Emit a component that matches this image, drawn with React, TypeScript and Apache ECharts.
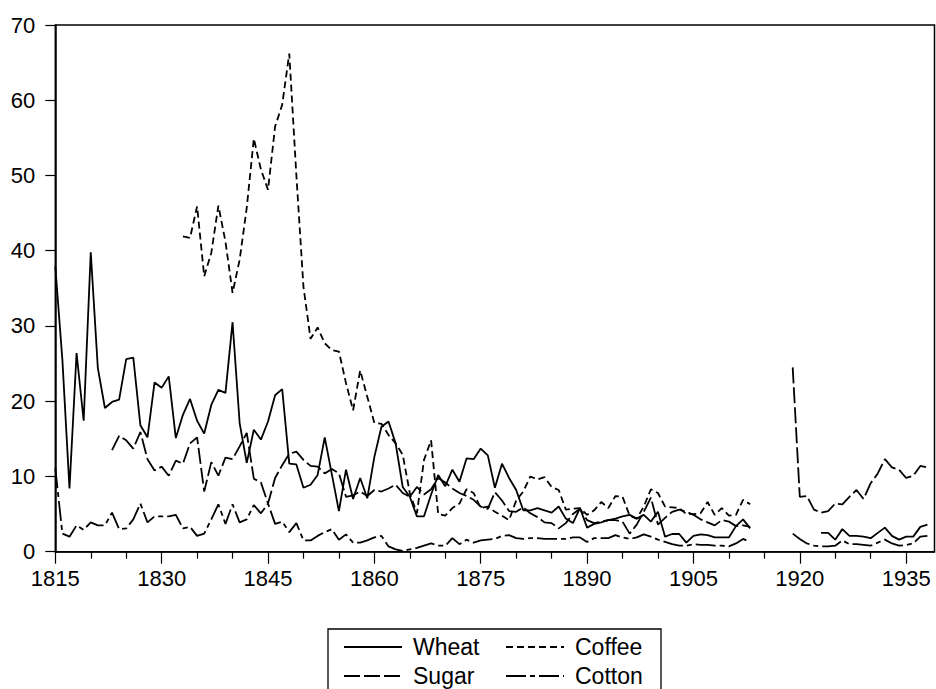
import React, { useEffect, useRef } from "react";
import * as echarts from "echarts";

// ---- data ----
const legendNames = ["Wheat", "Coffee", "Sugar", "Cotton"];
const majorYears = [1815, 1830, 1845, 1860, 1875, 1890, 1905, 1920, 1935];
const minorYears = [1820, 1825, 1835, 1840, 1850, 1855, 1865, 1870, 1880, 1885, 1895, 1900, 1910, 1915, 1925, 1930];

// Wheat 1815-1913
const wheatA = [
  37.9, 25.5, 8.4, 26.4, 17.4, 39.8, 24.4, 19.1, 19.9, 20.2,
  25.6, 25.8, 16.8, 15.2, 22.5, 21.8, 23.3, 15.1, 18.2, 20.3,
  17.4, 15.7, 19.5, 21.5, 21.1, 30.5, 17.1, 11.8, 16.2, 14.9,
  17.3, 20.8, 21.6, 11.7, 11.6, 8.5, 8.9, 10.2, 15.2, 10.3,
  5.4, 10.9, 7.0, 9.8, 7.1, 12.6, 16.6, 17.3, 14.4, 8.6,
  7.3, 4.7, 4.7, 7.6, 10.2, 8.7, 10.9, 9.3, 12.4, 12.3,
  13.7, 12.8, 8.5, 11.7, 9.8, 8.2, 5.5, 5.5, 5.8, 5.5,
  5.2, 6.0, 4.4, 3.8, 5.8, 3.2, 3.7, 3.9, 4.2, 4.4,
  4.7, 4.9, 4.4, 4.9, 4.0, 5.3, 2.0, 2.35, 2.35, 1.2,
  2.1, 2.3, 2.2, 1.9, 1.9, 1.9, 3.4, 4.3, 3.1,
];
// Wheat 1923-1938
const wheatB = [2.5, 2.5, 1.6, 3.0, 2.1, 2.1, 2.0, 1.8, 2.5, 3.2, 2.1, 1.6, 2.0, 2.0, 3.3, 3.6];

// Coffee 1833-1913
const coffee = [
  41.9, 41.7, 45.9, 36.6, 39.7, 46.0, 41.2, 34.4, 38.8, 45.7,
  54.9, 50.8, 48.1, 56.5, 59.4, 66.2, 50.0, 35.2, 28.3, 29.8,
  27.7, 26.8, 26.6, 22.4, 18.8, 24.1, 20.6, 17.1, 17.0, 15.5,
  14.4, 12.9, 7.8, 5.1, 12.2, 14.8, 5.0, 4.8, 5.8, 6.4,
  8.3, 7.8, 5.8, 6.0, 5.3, 4.8, 4.2, 6.8, 8.0, 10.0,
  9.6, 9.9, 8.6, 8.2, 5.6, 5.7, 5.8, 4.9, 5.5, 6.6,
  5.8, 7.4, 7.3, 4.8, 4.4, 6.0, 8.3, 7.8, 6.0, 5.9,
  5.8, 5.0, 5.0, 5.1, 6.6, 4.9, 5.8, 4.8, 4.9, 6.9,
  6.3,
];

// Sugar 1823-1913
const sugarA = [
  13.5, 15.4, 14.8, 13.7, 15.9, 12.3, 10.8, 11.3, 10.1, 12.1,
  11.7, 14.4, 15.2, 8.0, 11.9, 10.1, 12.5, 12.3, 14.0, 15.8,
  9.7, 9.2, 6.4, 9.8, 11.5, 13.0, 13.3, 12.2, 11.4, 11.3,
  10.4, 11.0, 10.4, 7.3, 7.5, 8.0, 7.4, 8.2, 8.0, 8.4,
  8.9, 7.8, 7.3, 8.6, 7.6, 8.3, 9.8, 9.2, 8.4, 7.8,
  7.4, 6.9, 6.0, 5.7, 7.9, 6.8, 5.4, 5.3, 5.9, 5.1,
  4.6, 3.9, 3.8, 3.1, 3.8, 5.0, 5.7, 4.2, 3.8, 4.0,
  4.2, 4.2, 4.0, 2.4, 3.6, 5.3, 7.2, 3.6, 4.5, 5.3,
  5.6, 5.3, 4.9, 4.3, 3.9, 3.5, 4.2, 4.0, 3.4, 3.5,
  3.3,
];
// Sugar 1919-1938
const sugarB = [24.5, 7.3, 7.4, 5.6, 5.2, 5.4, 6.4, 6.3, 7.3, 8.2, 7.0, 9.1, 10.4, 12.3, 11.2, 10.9, 9.8, 10.1, 11.4, 11.2];

// Cotton 1815-1913
const cottonA = [
  11.1, 2.4, 2.0, 3.5, 2.9, 3.9, 3.5, 3.5, 5.2, 3.0,
  3.1, 4.3, 6.4, 3.9, 4.7, 4.7, 4.7, 4.9, 3.1, 3.3,
  2.1, 2.4, 4.3, 6.3, 3.7, 6.3, 3.9, 4.3, 6.2, 5.1,
  6.4, 3.7, 4.0, 2.6, 3.8, 1.5, 1.5, 2.1, 2.6, 3.0,
  1.6, 2.3, 1.2, 1.2, 1.5, 1.9, 2.1, 0.7, 0.3, 0.1,
  0.3, 0.5, 0.8, 1.1, 0.8, 0.8, 1.8, 1.0, 1.6, 1.2,
  1.5, 1.6, 1.7, 2.1, 2.2, 1.8, 1.7, 1.8, 1.8, 1.7,
  1.7, 1.7, 1.7, 1.9, 1.9, 1.3, 1.8, 1.8, 1.8, 2.2,
  1.9, 1.7, 1.9, 2.3, 2.0, 1.6, 1.3, 1.0, 0.8, 0.8,
  1.0, 0.9, 0.9, 0.8, 0.8, 0.7, 1.1, 1.7, 1.3,
];
// Cotton 1919-1938
const cottonB = [2.4, 1.7, 1.1, 0.8, 0.7, 0.7, 0.8, 1.5, 1.0, 1.0, 0.9, 0.8, 1.2, 1.6, 1.1, 0.8, 0.9, 1.1, 2.0, 2.1];

type Pt = [number, number | string];
function seg(start: number, vals: number[]): Pt[] {
  return vals.map((v, i) => [start + i, v] as Pt);
}
function joined(parts: Array<[number, number[]]>): Pt[] {
  const out: Pt[] = [];
  parts.forEach(([start, vals], k) => {
    if (k > 0) out.push([start - 1, "-"]);
    out.push(...seg(start, vals));
  });
  return out;
}

const FONT = "'Liberation Sans', Arial, Helvetica, sans-serif";

export default function App() {
  const ref = useRef<HTMLDivElement>(null);
  useEffect(() => {
    if (!ref.current) return;
    const chart = echarts.init(ref.current, null, { renderer: "svg" });
    const lw = 1.8;
    const mk = (name: string, data: Pt[], type: any) => ({
      name,
      type: "line",
      data,
      symbol: "none",
      showSymbol: false,
      connectNulls: false,
      xAxisIndex: 0,
      lineStyle: { color: "#000", width: lw, type },
      itemStyle: { color: "#000" },
      emphasis: { disabled: true },
    });
    const legendCommon = {
      orient: "horizontal",
      itemWidth: 58,
      itemHeight: 14,
      itemGap: 18,
      padding: 0,
      selectedMode: false,
      itemStyle: { opacity: 0, borderWidth: 0 },
      textStyle: {
        fontSize: 23,
        fontFamily: FONT,
        color: "#000",
        width: 74,
        padding: [0, 0, 0, 6],
        lineHeight: 24,
      },
    };
    chart.setOption({
      animation: false,
      backgroundColor: "#fff",
      grid: {
        show: true,
        left: 55.3,
        right: 1.5,
        top: 25,
        bottom: 137.3,
        borderColor: "#000",
        borderWidth: 1.5,
        containLabel: false,
      },
      xAxis: [
        {
          type: "value",
          min: 1815,
          max: 1939,
          position: "bottom",
          axisLine: { show: true, lineStyle: { color: "#000", width: 1.5 } },
          axisTick: { show: true, inside: false, length: 12, customValues: majorYears, lineStyle: { color: "#000", width: 1.2 } },
          axisLabel: {
            show: true,
            customValues: majorYears,
            fontSize: 22,
            fontFamily: FONT,
            color: "#000",
            margin: 16,
            formatter: (v: number) => String(v),
          },
          splitLine: { show: false },
        },
        {
          type: "value",
          min: 1815,
          max: 1939,
          position: "bottom",
          axisLine: { show: false },
          axisTick: { show: true, inside: false, length: 7, customValues: minorYears, lineStyle: { color: "#000", width: 1.2 } },
          axisLabel: { show: false },
          splitLine: { show: false },
        },
      ],
      yAxis: {
        type: "value",
        min: 0,
        max: 70,
        interval: 10,
        axisLine: { show: true, lineStyle: { color: "#000", width: 1.5 } },
        axisTick: { show: true, inside: false, length: 10, lineStyle: { color: "#000", width: 1.2 } },
        axisLabel: { fontSize: 22, fontFamily: FONT, color: "#000", margin: 20 },
        splitLine: { show: false },
      },
      legend: [
        { ...legendCommon, data: [legendNames[0], legendNames[1]], left: 343, top: 635 },
        { ...legendCommon, data: [legendNames[2], legendNames[3]], left: 343, top: 664 },
      ],
      graphic: [
        {
          type: "rect",
          shape: { x: 328, y: 629, width: 333, height: 80 },
          style: { fill: "none", stroke: "#000", lineWidth: 1.3 },
          silent: true,
        },
      ],
      series: [
        mk(legendNames[0], joined([[1815, wheatA], [1923, wheatB]]), "solid"),
        mk(legendNames[1], joined([[1833, coffee]]), [7, 4]),
        mk(legendNames[2], joined([[1823, sugarA], [1919, sugarB]]), [16, 4]),
        mk(legendNames[3], joined([[1815, cottonA], [1919, cottonB]]), [20, 4, 5, 4]),
      ],
    });
    return () => chart.dispose();
  }, []);
  return (
    <div
      ref={ref}
      style={{ position: "absolute", left: 0, top: 0, width: 936, height: 689, background: "#fff" }}
    />
  );
}
